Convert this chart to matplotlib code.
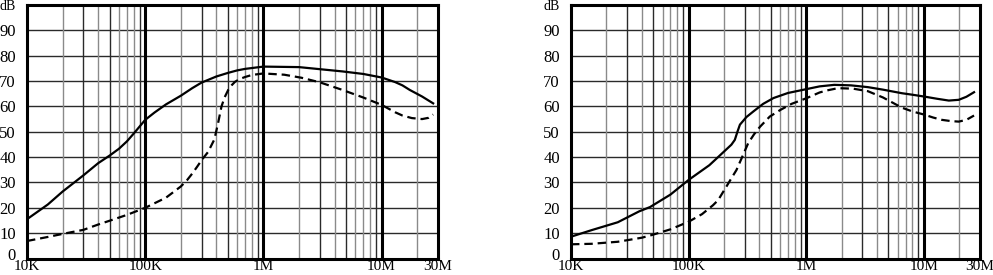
import matplotlib.pyplot as plt
from matplotlib.transforms import ScaledTranslation

plt.rcParams['font.family'] = ['Liberation Serif', 'DejaVu Serif']

# ======
# data (frequency in Hz, level in dB)
# ======
left_solid_f = [1e4, 1.5e4, 2e4, 3e4, 4e4, 5e4, 6e4, 7e4, 8e4, 1e5, 1.2e5, 1.5e5, 2e5, 2.5e5,
                3e5, 4e5, 5e5, 6e5, 7e5, 1e6, 2e6, 4.66e6, 7e6, 1e7, 1.3e7, 1.5e7, 1.73e7,
                2.2e7, 2.73e7]
left_solid_db = [15.5, 21.3, 26.4, 32.8, 37.6, 40.6, 43.3, 46.2, 49.3, 54.7, 57.6, 60.8, 64.2, 67.2,
                 69.4, 71.8, 73.2, 74.2, 74.8, 75.7, 75.5, 73.8, 72.8, 71.4, 69.6, 68.3, 66.5,
                 63.9, 61.2]

left_dash_f = [1e4, 1.5e4, 2e4, 3e4, 4e4, 5e4, 7e4, 1e5, 1.5e5, 2e5, 2.25e5, 2.5e5, 2.75e5, 3e5,
               3.4e5, 3.85e5, 4.14e5, 4.42e5, 4.7e5, 5.04e5, 5.4e5, 5.75e5, 6.3e5, 7e5, 8e5,
               1e6, 1.5e6, 2.1e6, 3e6, 4.66e6, 7e6, 1e7, 1.3e7, 1.5e7, 1.8e7, 2.2e7, 2.5e7,
               2.73e7]
left_dash_db = [6.9, 8.5, 9.7, 11.3, 13.4, 14.9, 17.2, 20.0, 24.0, 28.4, 30.8, 33.5, 36.2, 38.8,
                42.0, 47.0, 53.5, 60.0, 63.6, 66.5, 68.4, 69.7, 70.8, 71.6, 72.4,
                73.0, 72.5, 71.3, 69.5, 66.5, 63.5, 60.6, 57.7, 56.4, 55.4, 55.0, 55.5,
                56.8]

right_solid_f = [1e4, 1.5e4, 2.5e4, 3.8e4, 4.7e4, 7e4, 1e5, 1.5e5, 1.78e5, 2.31e5, 2.47e5,
                 2.6e5, 2.73e5, 3.1e5, 3.55e5, 4.3e5, 5.27e5, 7e5, 1e6, 1.3e6, 1.73e6,
                 2.4e6, 3.34e6, 4.5e6, 6.5e6, 8e6, 1e7, 1.3e7, 1.63e7, 1.98e7, 2.3e7, 2.67e7]
right_solid_db = [8.6, 11.2, 14.3, 18.6, 20.3, 25.2, 31.0, 36.8, 40.0, 44.9, 46.8,
                  50.0, 52.8, 55.8, 58.0, 61.0, 63.3, 65.3, 66.8, 67.9, 68.5,
                  68.3, 67.6, 66.6, 65.2, 64.6, 63.9, 63.0, 62.3, 62.6, 63.8, 65.6]

right_dash_f = [1e4, 1.5e4, 2.5e4, 4e4, 4.9e4, 7e4, 1e5, 1.3e5, 1.61e5, 1.78e5, 2.09e5,
                2.3e5, 2.55e5, 2.85e5, 3.21e5, 3.6e5, 4.05e5, 4.9e5, 6.02e5, 7.5e5, 1e6,
                1.3e6, 1.5e6, 1.86e6, 2.5e6, 3.34e6, 4.5e6, 6.5e6, 8e6, 1e7, 1.2e7, 1.42e7,
                1.7e7, 1.98e7, 2.3e7, 2.67e7]
right_dash_db = [5.6, 5.8, 6.6, 8.2, 9.3, 11.5, 14.5, 17.5, 21.0, 23.0, 28.3,
                 31.5, 34.9, 40.0, 45.5, 49.0, 52.0, 56.0, 58.6, 61.0, 63.2,
                 65.5, 66.3, 67.2, 67.0, 66.0, 63.5, 59.5, 58.0, 56.8, 55.6, 54.7,
                 54.2, 54.0, 54.7, 56.4]

x_ticks = [1e4, 1e5, 1e6, 1e7, 3e7]
x_labels = ['10K', '100K', '1M', '10M', '30M']
y_ticks = list(range(0, 101, 10))
y_labels = ['0', '10', '20', '30', '40', '50', '60', '70', '80', '90', 'dB']


def setup(ax):
    ax.set_xscale('log')
    ax.set_xlim(1e4, 3e7)
    ax.set_ylim(0, 100)
    # horizontal grid
    for y in range(10, 100, 10):
        ax.axhline(y, color='#2a2a2a', lw=1.0, zorder=1)
    # vertical minor grid
    for dec in [1e4, 1e5, 1e6, 1e7]:
        for m in range(2, 10):
            f = dec * m
            if f >= 3e7:
                break
            col = '#2a2a2a' if m in (3, 5, 9) else '#8a8a8a'
            ax.axvline(f, color=col, lw=1.0, zorder=1)
    for f in [1e5, 1e6, 1e7]:
        ax.axvline(f, color='black', lw=2.2, zorder=2)
    for s in ax.spines.values():
        s.set_linewidth(2.2)
        s.set_color('black')
    ax.set_xticks(x_ticks)
    ax.set_xticklabels(x_labels, fontsize=11)
    ax.xaxis.set_minor_locator(plt.NullLocator())
    ax.set_yticks(y_ticks)
    ax.set_yticklabels(y_labels, fontsize=12)
    ax.tick_params(length=0, pad=8)
    ax.tick_params(axis='x', pad=1)
    labs = ax.get_yticklabels()
    # lift the "0" a little so it sits above the "10K"
    labs[0].set_transform(labs[0].get_transform() + ScaledTranslation(0, 3 / 72, fig.dpi_scale_trans))
    labs[-1].set_fontsize(10)


fig = plt.figure(figsize=(9.93, 2.75), dpi=100)
ax1 = fig.add_axes([27 / 993, 16.5 / 275, 411 / 993, 253.5 / 275])
ax2 = fig.add_axes([571 / 993, 16.5 / 275, 409 / 993, 253.5 / 275])

for ax, sf, sd, df, dd in [(ax1, left_solid_f, left_solid_db, left_dash_f, left_dash_db),
                           (ax2, right_solid_f, right_solid_db, right_dash_f, right_dash_db)]:
    setup(ax)
    ax.plot(sf, sd, color='black', lw=1.6, zorder=3, solid_joinstyle='round')
    ax.plot(df, dd, color='black', lw=1.6, zorder=3, linestyle=(0, (3.8, 2.2)))

fig.savefig('out.png', dpi=100)
